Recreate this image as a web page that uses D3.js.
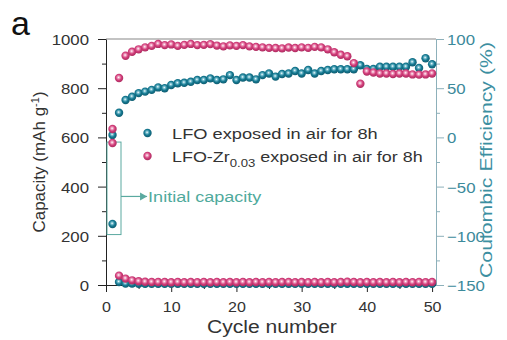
<!DOCTYPE html>
<html><head><meta charset="utf-8">
<script src="https://cdn.jsdelivr.net/npm/d3@7"></script>
<style>
html,body{margin:0;padding:0;background:#fff;}
svg{display:block;font-family:"Liberation Sans",Arial,sans-serif;}
</style></head>
<body><svg id="c" width="507" height="340"></svg>
<script>
const cycles = [1,2,3,4,5,6,7,8,9,10,11,12,13,14,15,16,17,18,19,20,21,22,23,24,25,26,27,28,29,30,31,32,33,34,35,36,37,38,39,40,41,42,43,44,45,46,47,48,49,50];
const capacityLFO = [248,12,6,6,5,5,5,5,5,5,5,5,5,5,5,5,5,5,5,5,5,5,5,5,5,5,5,5,5,5,5,5,5,5,5,5,5,5,5,5,5,5,5,5,5,5,5,5,5,5];
const capacityZr = [577,38,26,19,15,13,12,12,12,11,12,11,12,11,12,11,12,11,12,11,12,11,12,11,12,11,12,12,11,12,11,12,11,12,11,12,13,12,11,12,11,12,11,12,11,12,11,12,11,12];
const ceLFO = [2.5,25,38,41.3,45,46.5,48.3,50.8,50,53.3,55,55.5,56.5,58.3,58.3,60,58.3,59,63.3,58.3,60.8,60.8,59,63.3,65,61.8,64.5,65,67.5,65,68.5,65,67.5,68.5,69.3,69.3,69.3,69.3,73.3,69.5,69.5,71.8,71.8,71.8,71.8,71.8,76.3,70.5,80.5,74.3];
const ceZr = [8.5,60.3,83,87,89.5,91.5,93,95,93.8,94.5,93,94,95,93.8,94,94.8,93.3,92.5,93.5,93,93.8,92.5,92,91.5,91,90.8,90.5,91.3,90.8,91.5,91,92,91.5,89.5,86.5,84,82.5,75.5,54.5,67,66,65,65,64.5,65,65,64,63.8,64,65];
const xTicks = [0,10,20,30,40,50];
const yTicks = [0,200,400,600,800,1000];
const y2Ticks = [-150,-100,-50,0,50,100];
const seriesNames = ["LFO exposed in air for 8h", "LFO-Zr", "0.03", " exposed in air for 8h"];
const initialBox = {x0:0.15, x1:2.3, y0:205, y1:581};
const annotation = "Initial capacity";

const teal = "#167a92", pink = "#d33f7c";
const svg = d3.select("#c");
const L=106, R=436, T=39, B=285;
const x = d3.scaleLinear().domain([0,50.6]).range([L,R]);
const y = d3.scaleLinear().domain([0,1000]).range([B,T]);
const y2 = d3.scaleLinear().domain([-150,100]).range([B,T]);

// stretch helper: place text starting/anchored at (x0,y0) and scale horizontally to target width
function fit(t, x0, y0, target, anchor){
  t.attr("x",0).attr("y",0);
  const w = t.node().getBBox().width;
  const s = target / w;
  t.attr("transform",`translate(${x0},${y0}) scale(${s},1)`);
}
function stretch(sel, sx){
  sel.each(function(){
    const t = d3.select(this);
    const tx = +t.attr("x")||0, ty = +t.attr("y")||0;
    t.attr("x",0).attr("y",0).attr("transform",`translate(${tx},${ty}) scale(${sx},1)`);
  });
}

const defs = svg.append("defs");
function grad(id, light, base, dark){
  const g = defs.append("radialGradient").attr("id",id).attr("cx","45%").attr("cy","42%").attr("r","60%");
  g.append("stop").attr("offset","0%").attr("stop-color","#ffffff");
  g.append("stop").attr("offset","22%").attr("stop-color",light);
  g.append("stop").attr("offset","55%").attr("stop-color",base);
  g.append("stop").attr("offset","100%").attr("stop-color",dark);
}
grad("gT","#7cc0d0",teal,"#0e5a6e");
grad("gP","#f0a5c3",pink,"#a82a5c");

// top border
svg.append("line").attr("x1",L).attr("x2",R).attr("y1",T).attr("y2",T).attr("stroke","#888").attr("stroke-width",1.2);

// axes
const fmt = d3.format("d");
const ax = svg.append("g").attr("transform",`translate(0,${B})`)
  .call(d3.axisBottom(x).tickValues(xTicks).tickFormat(fmt).tickSize(7).tickSizeOuter(0));
svg.append("g").attr("transform",`translate(0,${B})`)
  .call(d3.axisBottom(x).tickValues([5,15,25,35,45]).tickSize(4).tickFormat("").tickSizeOuter(0))
  .call(g=>g.select(".domain").remove()).selectAll("line").attr("stroke","#222");
const ay = svg.append("g").attr("transform",`translate(${L},0)`)
  .call(d3.axisLeft(y).tickValues(yTicks).tickFormat(fmt).tickSize(8).tickSizeOuter(0));
svg.append("g").attr("transform",`translate(${L},0)`)
  .call(d3.axisLeft(y).tickValues([100,300,500,700,900]).tickSize(4).tickFormat("").tickSizeOuter(0))
  .call(g=>g.select(".domain").remove()).selectAll("line").attr("stroke","#222");
const ay2 = svg.append("g").attr("transform",`translate(${R},0)`)
  .call(d3.axisRight(y2).tickValues(y2Ticks).tickFormat(fmt).tickSize(8).tickSizeOuter(0));
const ay2m = svg.append("g").attr("transform",`translate(${R},0)`)
  .call(d3.axisRight(y2).tickValues([75,25,-25,-75,-125]).tickSize(4).tickFormat("").tickSizeOuter(0));
ay2m.select(".domain").remove();

[ax,ay,ay2].forEach(g=>{
  g.selectAll("text").attr("font-size",15).attr("fill","#333").attr("font-family","Liberation Sans, Arial, sans-serif").attr("dy",null);
  g.selectAll("line,path").attr("stroke","#222");
});
ax.selectAll("text").attr("y",27);
stretch(ax.selectAll("text"),1.07);
ay.selectAll("text").attr("x",-17).attr("y",5.5);
stretch(ay.selectAll("text"),1.12);
ay2.selectAll("text").attr("fill","#3c8a9b").attr("x",11).attr("y",5.5);
stretch(ay2.selectAll("text"),1.12);
ay2.selectAll("line,path").attr("stroke","#8db0ba");
ay2m.selectAll("line").attr("stroke","#8db0ba");

// axis titles
svg.append("text").attr("transform","translate(45,162) rotate(-90)").attr("text-anchor","middle")
  .attr("font-size",17).attr("fill","#333").html('Capacity (mAh g<tspan dy="-6" font-size="11">-1</tspan><tspan dy="6">)</tspan>');
svg.append("text").attr("transform","translate(492,160) rotate(-90)").attr("text-anchor","middle")
  .attr("font-size",17).attr("fill","#3c8fa1").attr("textLength",236).attr("lengthAdjust","spacingAndGlyphs")
  .text("Coulombic Efficiency (%)");
fit(svg.append("text").attr("font-size",18).attr("fill","#333").text("Cycle number"), 207, 333, 130);
svg.append("text").attr("x",11).attr("y",35).attr("font-size",34).attr("fill","#111").text("a");

// initial capacity box + arrow
const annC = "#5aa9a0";
svg.append("rect").attr("x",x(initialBox.x0)).attr("y",y(initialBox.y1))
  .attr("width",x(initialBox.x1)-x(initialBox.x0)).attr("height",y(initialBox.y0)-y(initialBox.y1))
  .attr("fill","none").attr("stroke",annC).attr("stroke-width",1);
const ay0 = y(360);
svg.append("line").attr("x1",x(initialBox.x1)).attr("x2",x(6.3)).attr("y1",ay0).attr("y2",ay0).attr("stroke",annC).attr("stroke-width",1.2);
svg.append("path").attr("d",`M${x(6.3)-7},${ay0-4}L${x(6.3)},${ay0}L${x(6.3)-7},${ay0+4}Z`).attr("fill",annC);
fit(svg.append("text").attr("font-size",15).attr("fill","#4faa9c").text(annotation), x(6.3)+1, ay0+5.5, 114);

// points
function dots(data, sc, fill){
  svg.append("g").selectAll("circle").data(data).join("circle")
    .attr("cx",(d,i)=>x(cycles[i])).attr("cy",d=>sc(d)).attr("r",4.2).attr("fill",fill);
}
dots(capacityLFO, y, "url(#gT)");
dots(ceLFO, y2, "url(#gT)");
dots(capacityZr, y, "url(#gP)");
dots(ceZr, y2, "url(#gP)");

// legend
svg.append("circle").attr("cx",147.5).attr("cy",133).attr("r",4.2).attr("fill","url(#gT)");
svg.append("circle").attr("cx",147.5).attr("cy",156).attr("r",4.2).attr("fill","url(#gP)");
fit(svg.append("text").attr("font-size",15).attr("fill","#333").text(seriesNames[0]), 172, 138.5, 206);
fit(svg.append("text").attr("font-size",15).attr("fill","#333")
  .html(`${seriesNames[1]}<tspan dy="5" font-size="11">${seriesNames[2]}</tspan><tspan dy="-5">${seriesNames[3]}</tspan>`), 172, 161.5, 251);
</script></body></html>
